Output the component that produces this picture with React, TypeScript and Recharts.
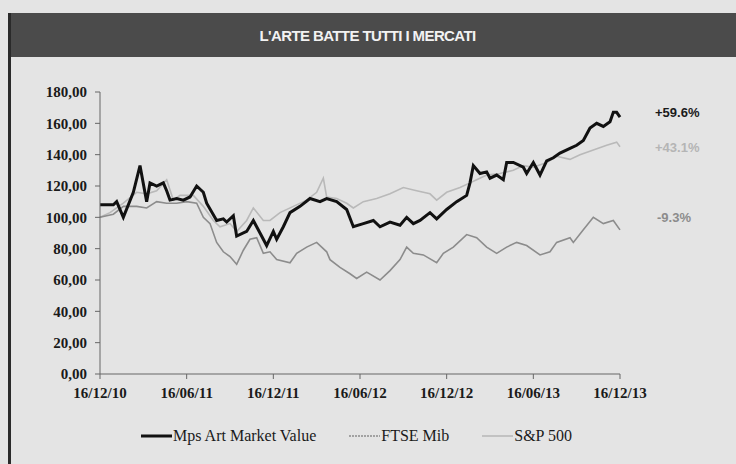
import React from 'react';
import { LineChart, Line, XAxis, YAxis } from 'recharts';

// settimane dal 16/12/10 (0) al 16/12/13 (156)
const tickWeeks = [0, 26, 52, 78, 104, 130, 156];
const tickLabels = ['16/12/10', '16/06/11', '16/12/11', '16/06/12', '16/12/12', '16/06/13', '16/12/13'];
const yTicks = [0, 20, 40, 60, 80, 100, 120, 140, 160, 180];

const mpsWeeks = [0, 4, 5, 7, 10, 12, 14, 15, 17, 19, 20, 21, 23, 25, 27, 29, 31, 32, 35, 37, 38, 40, 41, 44, 46, 48, 50, 52, 53, 55, 57, 60, 63, 66, 68, 71, 74, 76, 79, 82, 84, 87, 90, 92, 94, 96, 99, 101, 104, 107, 110, 111, 112, 114, 116, 117, 119, 121, 122, 124, 127, 128, 130, 132, 134, 136, 138, 141, 143, 145, 147, 149, 151, 153, 154, 155, 156];
const mpsValues = [108, 108, 110, 100, 116, 133, 110, 122, 120, 122, 117, 111, 112, 111, 113, 120, 116, 109, 98, 99, 97, 101, 88, 91, 98, 90, 82, 91, 86, 94, 103, 107, 112, 110, 112, 110, 105, 94, 96, 98, 94, 97, 95, 100, 96, 98, 103, 99, 105, 110, 114, 122, 133, 128, 129, 125, 127, 124, 135, 135, 132, 128, 135, 127, 136, 138, 141, 144, 146, 149, 157, 160, 158, 161, 167, 167, 164];

const ftseWeeks = [0, 4, 7, 11, 14, 17, 20, 23, 26, 29, 31, 33, 35, 37, 39, 41, 43, 45, 47, 49, 51, 53, 57, 59, 62, 65, 68, 69, 72, 75, 77, 80, 84, 87, 90, 92, 94, 97, 101, 103, 106, 110, 113, 116, 119, 122, 125, 128, 132, 135, 137, 141, 142, 145, 148, 151, 154, 156];
const ftseValues = [100, 102, 107, 107, 106, 110, 109, 109, 110, 109, 100, 96, 84, 78, 75, 70, 79, 86, 87, 77, 78, 73, 71, 77, 81, 84, 78, 73, 68, 64, 61, 65, 60, 66, 73, 81, 77, 76, 71, 77, 81, 89, 87, 81, 77, 81, 84, 82, 76, 78, 84, 87, 84, 92, 100, 96, 98, 92];

const spWeeks = [0, 3, 7, 11, 14, 17, 20, 22, 24, 28, 31, 34, 36, 39, 41, 44, 46, 49, 51, 54, 58, 62, 65, 67, 68, 71, 74, 76, 79, 83, 87, 91, 95, 99, 101, 104, 108, 111, 113, 116, 120, 124, 127, 130, 134, 137, 141, 144, 148, 152, 155, 156];
const spValues = [100, 103, 109, 116, 115, 117, 124, 111, 114, 114, 107, 98, 94, 96, 91, 98, 106, 98, 98, 103, 107, 111, 116, 125, 113, 112, 109, 106, 110, 112, 115, 119, 117, 115, 111, 116, 119, 122, 124, 127, 128, 130, 133, 132, 135, 139, 137, 140, 143, 146, 148, 145];

const seriesNames = ['Mps Art Market Value', 'FTSE Mib', 'S&P 500'];
const seriesColors = ['#111111', '#8c8c8c', '#b9b9b9'];
const endLabels = ['+59.6%', '+43.1%', '-9.3%'];

const toRows = (weeks: number[], values: number[]) => weeks.map((w, i) => ({ w, v: values[i] }));
const mpsData = toRows(mpsWeeks, mpsValues);
const ftseData = toRows(ftseWeeks, ftseValues);
const spData = toRows(spWeeks, spValues);

const fmtY = (v: number) => v.toFixed(2).replace('.', ',');
const fmtX = (w: number) => tickLabels[tickWeeks.indexOf(w)] ?? '';

const tickStyle = { fontFamily: '"Liberation Serif", serif', fontSize: 15, fontWeight: 'bold', fill: '#1a1a1a' };

export default function App() {
  return (
    <div style={{ position: 'absolute', top: 0, left: 0, width: 736, height: 464, background: '#e4e4e4', overflow: 'hidden' }}>
      {/* barra del titolo */}
      <div
        style={{
          position: 'absolute', top: 13, left: 9, width: 727, height: 44, background: '#4b4b4b',
          color: '#f2f2f2', display: 'flex', alignItems: 'center', justifyContent: 'center',
          fontFamily: '"Liberation Sans", sans-serif', fontWeight: 'bold', fontSize: 15,
          letterSpacing: -0.6,
        }}
      >
        <span style={{ marginRight: 10 }}>L'ARTE BATTE TUTTI I MERCATI</span>
      </div>
      <div style={{ position: 'absolute', top: 13, left: 8, width: 3, height: 451, background: '#2a2a2a' }} />

      <div style={{ position: 'absolute', top: 0, left: 0 }}>
        <LineChart width={736} height={464} margin={{ top: 92, right: 116, left: 40, bottom: 60 }}>
          <XAxis
            dataKey="w"
            type="number"
            domain={[0, 156]}
            ticks={tickWeeks}
            tickFormatter={fmtX}
            interval={0}
            height={30}
            stroke="#666"
            tickSize={5}
            tickMargin={8}
            tick={tickStyle}
          />
          <YAxis
            domain={[0, 180]}
            ticks={yTicks}
            tickFormatter={fmtY}
            width={60}
            stroke="#666"
            tickSize={5}
            tickMargin={8}
            tick={tickStyle}
          />
          <Line data={spData} dataKey="v" name={seriesNames[2]} stroke={seriesColors[2]} strokeWidth={1.6} dot={false} isAnimationActive={false} />
          <Line data={ftseData} dataKey="v" name={seriesNames[1]} stroke={seriesColors[1]} strokeWidth={1.6} dot={false} isAnimationActive={false} />
          <Line data={mpsData} dataKey="v" name={seriesNames[0]} stroke={seriesColors[0]} strokeWidth={3} dot={false} isAnimationActive={false} />
        </LineChart>
      </div>

      {/* etichette di rendimento */}
      {endLabels.map((t, i) => (
        <div
          key={t}
          style={{
            position: 'absolute', left: i === 2 ? 657 : 655, top: [105, 140, 210][i],
            fontFamily: '"Liberation Sans", Arial, sans-serif', fontWeight: 'bold', fontSize: 13,
            color: ['#1a1a1a', '#b5b5b5', '#8c8c8c'][i],
          }}
        >
          {t}
        </div>
      ))}

      {/* legenda */}
      <div style={{ position: 'absolute', top: 427, left: 141, display: 'flex', alignItems: 'center', fontFamily: '"Liberation Serif", serif', fontSize: 16, color: '#1a1a1a' }}>
        {seriesNames.map((n, i) => (
          <div key={n} style={{ display: 'flex', alignItems: 'center', marginRight: 33 }}>
            <svg width={31} height={10}>
              <line x1={0} y1={5} x2={31} y2={5} stroke={seriesColors[i]} strokeWidth={i === 0 ? 3 : 1.6} strokeDasharray={i === 1 ? '2 1' : undefined} />
            </svg>
            <span style={{ marginLeft: 1 }}>{n}</span>
          </div>
        ))}
      </div>
    </div>
  );
}
